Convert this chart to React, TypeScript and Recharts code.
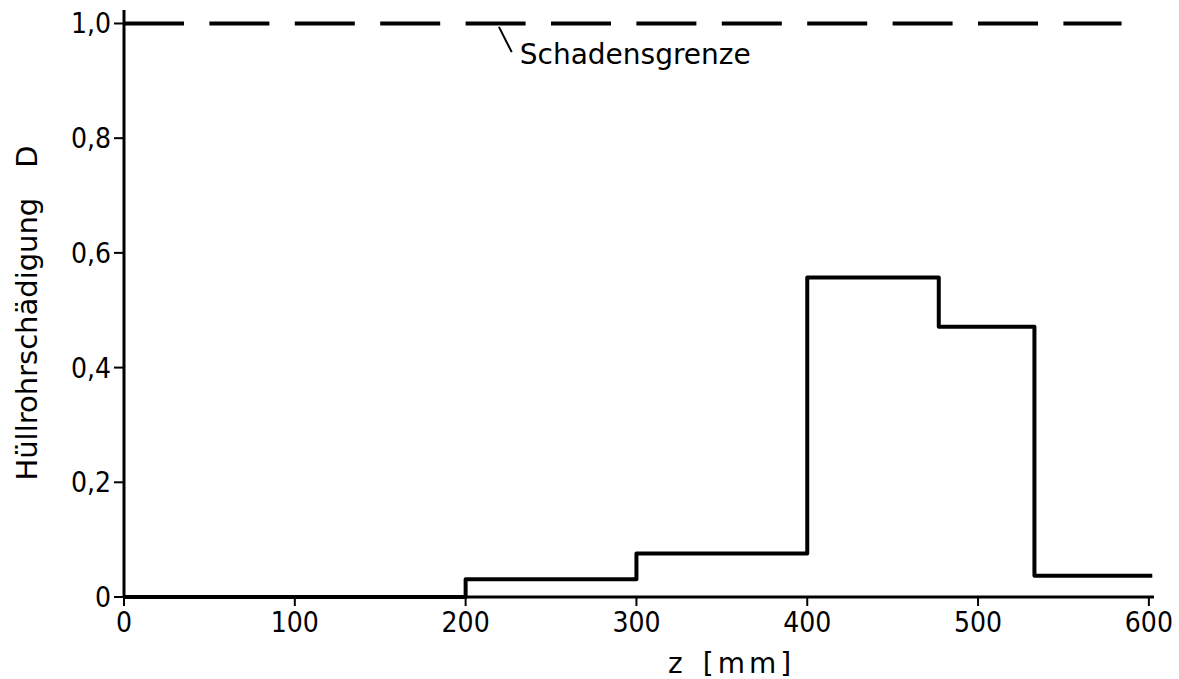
import React from 'react';
import {
  LineChart, Line, XAxis, YAxis, ReferenceLine, ReferenceDot, Label
} from 'recharts';

// axial position z [mm] where each damage level starts (stepAfter)
const zPositions = [0, 200, 300, 400, 477, 533, 602];
const damageValues = [0, 0.031, 0.076, 0.557, 0.471, 0.037, 0.037];

const xTicks = [0, 100, 200, 300, 400, 500, 600];
const yTicks = [0, 0.2, 0.4, 0.6, 0.8, 1.0];

const limitValue = 1.0;
const limitLabel = 'Schadensgrenze';
const limitEndZ = 584;
const leaderFrom = { z: 219.5, d: 0.994 };
const leaderTo = { z: 227, d: 0.95 };

const yTitle = 'Hüllrohrschädigung';
const ySymbol = 'D';
const xTitle = 'z';
const xUnit = '[mm]';

const data = zPositions.map((z, i) => ({ z, d: damageValues[i] }));

const tickFont = "'DejaVu Sans Condensed', 'Liberation Sans Narrow', 'DejaVu Sans', sans-serif";
const textFont = "'DejaVu Sans', sans-serif";

const fmt = (v: number) => (v === 0 ? '0' : v.toFixed(1).replace('.', ','));

const YTitle = () => (
  <text
    x={27}
    y={313}
    transform="rotate(-90, 27, 313)"
    textAnchor="middle"
    dominantBaseline="central"
    fontFamily={textFont}
    fontSize={29}
    fill="#000"
  >
    {yTitle}
    <tspan dx={30}>{ySymbol}</tspan>
  </text>
);

const XTitle = () => (
  <text x={668} y={673} fontFamily={textFont} fontSize={28} fill="#000">
    {xTitle}
    <tspan dx={20} letterSpacing={4}>{xUnit}</tspan>
  </text>
);

const LimitText = ({ viewBox }: any) => (
  <text
    x={viewBox.x + 8}
    y={viewBox.y + 12}
    fontFamily={textFont}
    fontSize={28}
    fill="#000"
  >
    {limitLabel}
  </text>
);

export default function App() {
  return (
    <div style={{ position: 'absolute', left: 0, top: 0, background: '#fff' }}>
      <LineChart
        width={1179}
        height={679}
        data={data}
        margin={{ top: 10, right: 25, bottom: 0, left: 0 }}
      >
        <XAxis
          type="number"
          dataKey="z"
          domain={[0, 603]}
          ticks={xTicks}
          height={82}
          axisLine={{ stroke: '#000', strokeWidth: 3 }}
          tickLine={{ stroke: '#000', strokeWidth: 2 }}
          tickSize={9}
          tickMargin={6}
          tick={{ fill: '#000', fontSize: 28, fontFamily: tickFont }}
        >
          <Label content={<XTitle />} />
        </XAxis>
        <YAxis
          type="number"
          domain={[0, 1.0235]}
          ticks={yTicks}
          width={124}
          tickFormatter={fmt}
          axisLine={{ stroke: '#000', strokeWidth: 3 }}
          tickLine={{ stroke: '#000', strokeWidth: 2 }}
          tickSize={10}
          tickMargin={3}
          tick={{ fill: '#000', fontSize: 28, fontFamily: tickFont }}
        >
          <Label content={<YTitle />} />
        </YAxis>
        <ReferenceLine
          segment={[{ x: 0, y: limitValue }, { x: limitEndZ, y: limitValue }]}
          stroke="#000"
          strokeWidth={4}
          strokeDasharray="60 25.4"
          ifOverflow="visible"
        />
        <ReferenceLine
          segment={[{ x: leaderFrom.z, y: leaderFrom.d }, { x: leaderTo.z, y: leaderTo.d }]}
          stroke="#000"
          strokeWidth={2}
        />
        <ReferenceDot
          x={leaderTo.z}
          y={leaderTo.d}
          r={0}
          fill="none"
          stroke="none"
          label={<LimitText />}
        />
        <Line
          type="stepAfter"
          dataKey="d"
          stroke="#000"
          strokeWidth={4}
          strokeLinejoin="round"
          dot={false}
          activeDot={false}
          isAnimationActive={false}
        />
      </LineChart>
    </div>
  );
}
